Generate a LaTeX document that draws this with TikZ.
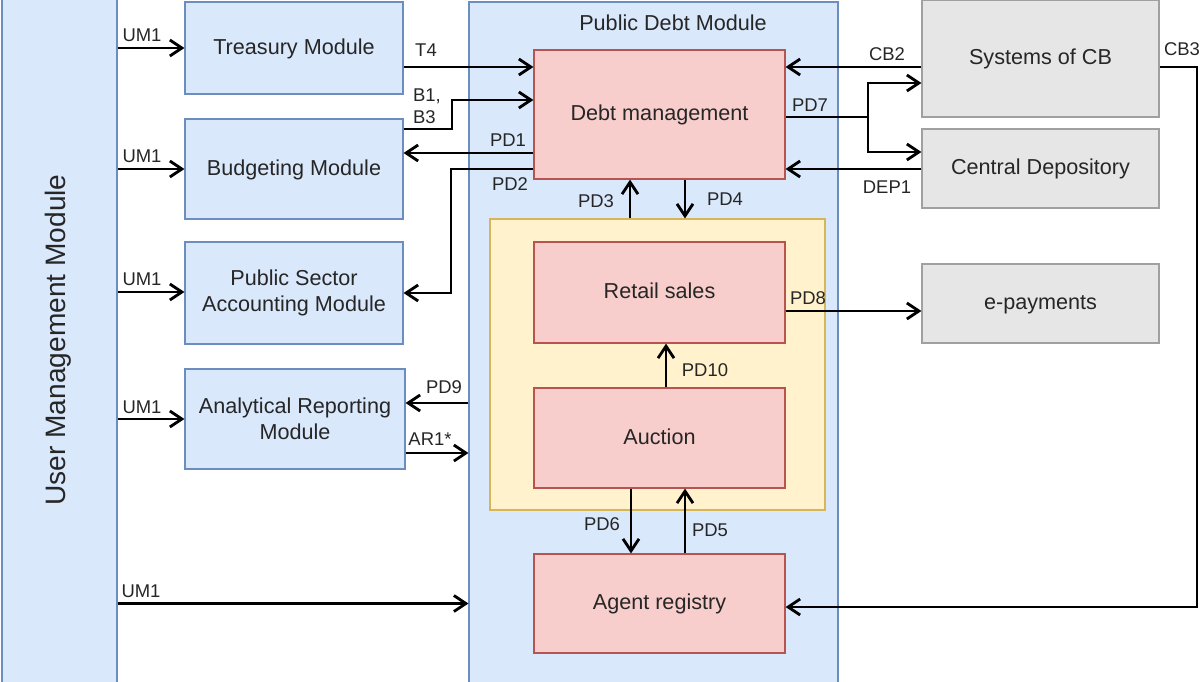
\documentclass[tikz,border=0pt]{standalone}
\usepackage{fontspec}
\setmainfont{Liberation Sans}
\usetikzlibrary{arrows.meta}

\definecolor{modfill}{HTML}{DAE8FC}
\definecolor{modline}{HTML}{6C8EBF}
\definecolor{subfill}{HTML}{F8CECC}
\definecolor{subline}{HTML}{B85450}
\definecolor{grpfill}{HTML}{FFF2CC}
\definecolor{grpline}{HTML}{D6B656}
\definecolor{extfill}{HTML}{E6E6E6}
\definecolor{extline}{HTML}{A0A0A0}

\begin{document}
\begin{tikzpicture}[x=0.02cm, y=-0.02cm,
        box/.style={draw, line width=0.7pt, inner sep=0pt, align=center, text=black!85,
            font=\fontsize{12.3}{14.8}\selectfont},
        oneline/.style={text height=0.72em, text depth=0pt},
        modbox/.style={box, fill=modfill, draw=modline},
        subbox/.style={box, oneline, fill=subfill, draw=subline, minimum width=5.02cm},
        extbox/.style={box, oneline, fill=extfill, draw=extline, minimum width=4.74cm},
        flow/.style={line width=1.6pt, -{Straight Barb[length=2.4mm,width=3.2mm]}},
        lbl/.style={inner sep=0pt, text=black!85, font=\fontsize{10.5}{12.6}\selectfont}]
        \useasboundingbox (0,0) rectangle (1200,681);
        \clip (0,0) rectangle (1200,681);

        % modules
        \node[modbox, oneline, rotate=90, minimum width=14cm, minimum height=2.3cm,
            font=\fontsize{16}{19}\selectfont] (umm) at (59.5,340) {User Management Module};
        \node[modbox, oneline, minimum width=4.36cm, minimum height=1.84cm] (treasury) at (294,48) {Treasury Module};
        \node[modbox, oneline, minimum width=4.36cm, minimum height=2cm] (budget) at (294,169) {Budgeting Module};
        \node[modbox, minimum width=4.36cm, minimum height=2.04cm] (psa) at (294,293) {Public Sector\\Accounting Module};
        \node[modbox, minimum width=4.4cm, minimum height=2cm] (anrep) at (295,419) {Analytical Reporting\\Module};
        \node[modbox, minimum width=7.38cm, minimum height=13.96cm] (pdm) at (653.5,351) {};
        \node[box, oneline, draw=none] (pdmtitle) at (673,24) {Public Debt Module};

        % inside the public debt module
        \node[subbox, minimum height=2.58cm] (debt) at (659.5,114.5) {Debt management};
        \node[box, fill=grpfill, draw=grpline, minimum width=6.7cm, minimum height=5.82cm] (sales) at (657.5,364.5) {};
        \node[subbox, minimum height=2.02cm] (retail) at (659.5,292.5) {Retail sales};
        \node[subbox, minimum height=2cm] (auction) at (659.5,438) {Auction};
        \node[subbox, minimum height=1.98cm] (agent) at (659.5,603.5) {Agent registry};

        % outside systems
        \node[extbox, minimum height=2.34cm] (syscb) at (1040.5,58.5) {Systems of CB};
        \node[extbox, minimum height=1.58cm] (cdep) at (1040.5,168.5) {Central Depository};
        \node[extbox, minimum height=1.58cm] (epay) at (1040.5,303.5) {e-payments};

        % bends
        \coordinate (b1bend) at (452,100);
        \coordinate (pd2bend) at (451,293);
        \coordinate (pd7split) at (868,117);
        \coordinate (cb3bend) at (1197,607);

        % user management
        \draw[flow] (umm.south |- treasury) -- (treasury.west);
        \draw[flow] (umm.south |- budget) -- (budget.west);
        \draw[flow] (umm.south |- 0,292) -- (psa.west |- 0,292);
        \draw[flow] (umm.south |- 0,419) -- (anrep.west |- 0,419);
        \draw[flow] (umm.south |- agent) -- (pdm.west |- agent);
        \node[lbl] (um1a) at (142,35) {UM1};
        \node[lbl] (um1b) at (142,156) {UM1};
        \node[lbl] (um1c) at (142,279) {UM1};
        \node[lbl] (um1d) at (142,407) {UM1};
        \node[lbl] (um1e) at (141,591) {UM1};

        % left side
        \draw[flow] (treasury.east |- 0,67) -- (debt.west |- 0,67);
        \node[lbl] (t4) at (426,50) {T4};
        \draw[flow] (budget.east |- 0,129) -| (b1bend) -- (debt.west |- b1bend);
        \node[lbl, align=left] (b1) at (427,106) {B1,\\B3};
        \draw[flow] (debt.west |- 0,153) -- (budget.east |- 0,153);
        \node[lbl] (pd1) at (508,140) {PD1};
        \draw[flow] (debt.west |- 0,169) -| (pd2bend) -- (psa.east |- pd2bend);
        \node[lbl] (pd2) at (510,184) {PD2};
        \draw[flow] (pdm.west |- 0,403) -- (anrep.east |- 0,403);
        \node[lbl] (pd9) at (444,387) {PD9};
        \draw[flow] (anrep.east |- 0,453) -- (pdm.west |- 0,453);
        \node[lbl] (ar1) at (430,439) {AR1*};

        % inside
        \draw[flow] (sales.north -| 630,0) -- (debt.south -| 630,0);
        \node[lbl] (pd3) at (596,201) {PD3};
        \draw[flow] (debt.south -| 685,0) -- (sales.north -| 685,0);
        \node[lbl] (pd4) at (725,199) {PD4};
        \draw[flow] (auction.north -| 666,0) -- (retail.south -| 666,0);
        \node[lbl] (pd10) at (705,370) {PD10};
        \draw[flow] (auction.south -| 631,0) -- (agent.north -| 631,0);
        \node[lbl] (pd6) at (602,524) {PD6};
        \draw[flow] (agent.north -| 685,0) -- (auction.south -| 685,0);
        \node[lbl] (pd5) at (710,530) {PD5};

        % right side
        \draw[flow] (syscb.west |- 0,67) -- (debt.east |- 0,67);
        \node[lbl] (cb2) at (887,54) {CB2};
        \draw[line width=1.6pt] (debt.east |- pd7split) -- (pd7split);
        \draw[flow] (pd7split) |- (syscb.west |- 0,83);
        \draw[flow] (pd7split) |- (cdep.west |- 0,152);
        \node[lbl] (pd7) at (810,105) {PD7};
        \draw[flow] (cdep.west |- 0,169) -- (debt.east |- 0,169);
        \node[lbl] (dep1) at (887,187) {DEP1};
        \draw[flow] (syscb.east |- 0,67) -| (cb3bend) -- (agent.east |- cb3bend);
        \node[lbl] (cb3) at (1182,49) {CB3};
        \draw[flow] (retail.east |- 0,311) -- (epay.west |- 0,311);
        \node[lbl] (pd8) at (808,298) {PD8};
    \end{tikzpicture}
\end{document}
